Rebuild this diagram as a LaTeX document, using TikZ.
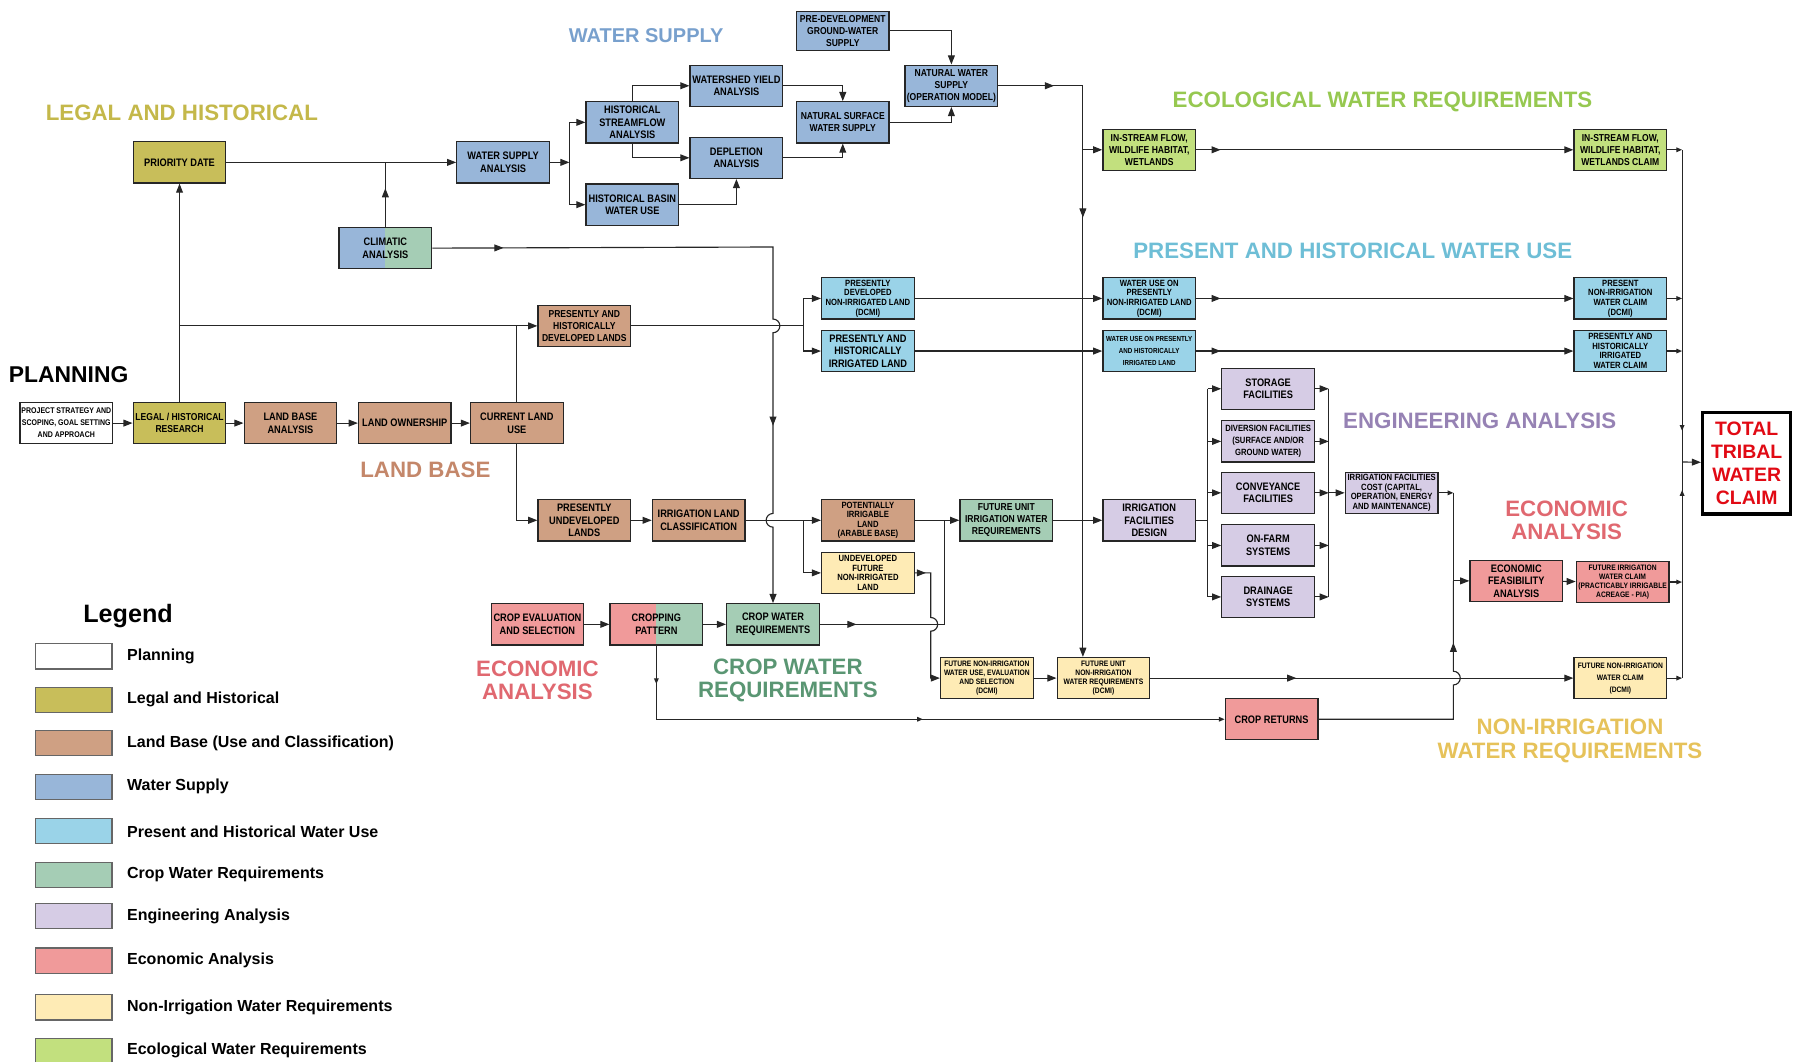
\documentclass[tikz,border=0pt]{standalone}
\usepackage{fontspec}
\setmainfont{Liberation Sans}
\newfontfamily\narrowsf[FakeStretch=0.85]{Liberation Sans}
\usetikzlibrary{arrows.meta,decorations.markings}

\definecolor{legalclr}{RGB}{200,190,90}
\definecolor{landclr}{RGB}{207,160,131}
\definecolor{supplyclr}{RGB}{152,182,217}
\definecolor{useclr}{RGB}{154,211,232}
\definecolor{cropclr}{RGB}{165,205,181}
\definecolor{engclr}{RGB}{214,204,229}
\definecolor{econclr}{RGB}{240,154,154}
\definecolor{nonirrclr}{RGB}{254,235,181}
\definecolor{ecoclr}{RGB}{194,224,126}
\definecolor{legaltxt}{RGB}{196,184,74}
\definecolor{landtxt}{RGB}{196,135,106}
\definecolor{supplytxt}{RGB}{120,160,205}
\definecolor{usetxt}{RGB}{110,190,214}
\definecolor{croptxt}{RGB}{90,150,115}
\definecolor{engtxt}{RGB}{150,130,180}
\definecolor{econtxt}{RGB}{224,104,112}
\definecolor{nonirrtxt}{RGB}{230,194,90}
\definecolor{ecotxt}{RGB}{150,200,80}
\definecolor{claimred}{RGB}{225,10,20}

\newcommand{\txtA}{\narrowsf\bfseries\fontsize{9.5}{11}\selectfont}
\newcommand{\txtAn}{\narrowsf\bfseries\fontsize{8.8}{10.6}\selectfont}
\newcommand{\txtB}{\narrowsf\bfseries\fontsize{7.9}{8.4}\selectfont}
\newcommand{\txtBw}{\narrowsf\bfseries\fontsize{7.9}{10.3}\selectfont}
\newcommand{\txtC}{\narrowsf\bfseries\fontsize{6.9}{7.8}\selectfont}
\newcommand{\txtCw}{\narrowsf\bfseries\fontsize{6.9}{10.5}\selectfont}
\newcommand{\txtCn}{\narrowsf\bfseries\fontsize{6.4}{10.5}\selectfont}
\newcommand{\txtP}{\narrowsf\bfseries\fontsize{7.2}{10.5}\selectfont}
\newcommand{\titlefont}{\bfseries\fontsize{19.5}{20.5}\selectfont}

\tikzset{
  blk/.style={draw=black!85, line width=1.1pt, minimum width=81pt, minimum height=36pt,
    inner sep=0.5pt, align=center, font=\txtA, fill=#1},
  blk/.default=white,
  halfblk/.style 2 args={blk=#1, path picture={\fill[#2] (path picture bounding box.north)
    rectangle (path picture bounding box.south east);}},
  sectitle/.style={font=\titlefont, align=center, inner sep=0pt},
  conn/.style={draw=black!85, line width=1pt},
  arr/.style={conn, -{Triangle[length=8pt,width=6pt]}},
  sarr/.style={conn, -{Triangle[length=5pt,width=4pt]}},
  marr/.style={postaction={decorate, decoration={markings,
    mark=at position #1 with {\arrow{Triangle[length=8pt,width=6pt]}}}}},
  smarr/.style={postaction={decorate, decoration={markings,
    mark=at position #1 with {\arrow{Triangle[length=5pt,width=4pt]}}}}},
  swatch/.style={draw=black!60, line width=1pt, minimum width=67pt, minimum height=22pt, inner sep=0pt},
  legtxt/.style={font=\bfseries\fontsize{14}{16}\selectfont, inner sep=0pt, anchor=west}
}

\begin{document}
\begin{tikzpicture}[x=1pt,y=-1pt]
\useasboundingbox (0,0) rectangle (1568,928);

% section titles
\node[sectitle, text=supplytxt, font=\bfseries\fontsize{17.5}{19}\selectfont] (tsupply) at (565,31) {WATER SUPPLY};
\node[sectitle, text=legaltxt] (tlegal) at (159,99) {LEGAL AND HISTORICAL};
\node[sectitle, text=ecotxt] (teco) at (1209,89) {ECOLOGICAL WATER REQUIREMENTS};
\node[sectitle, text=usetxt] (tuse) at (1183,219) {PRESENT AND HISTORICAL WATER USE};
\node[sectitle, text=black, font=\bfseries\fontsize{20}{22}\selectfont] (tplan) at (60,328) {PLANNING};
\node[sectitle, text=landtxt] (tland) at (372,411) {LAND BASE};
\node[sectitle, text=engtxt] (teng) at (1294,368) {ENGINEERING ANALYSIS};
\node[sectitle, text=econtxt] (tecon) at (1370,455) {ECONOMIC\\ANALYSIS};
\node[sectitle, text=econtxt] (tcropecon) at (470,595) {ECONOMIC\\ANALYSIS};
\node[sectitle, text=croptxt] (tcrop) at (689,595) {CROP WATER\\REQUIREMENTS};
\node[sectitle, text=nonirrtxt] (tnonirr) at (1373,648) {NON-IRRIGATION\\WATER REQUIREMENTS};

% planning, legal and land base
\node[blk, font=\txtP] (proj) at (58,370) {PROJECT STRATEGY AND\\SCOPING, GOAL SETTING\\AND APPROACH};
\node[blk=legalclr, font=\txtAn] (lhr) at (157,370) {LEGAL / HISTORICAL\\RESEARCH};
\node[blk=legalclr] (prio) at (157,142) {PRIORITY DATE};
\node[blk=landclr] (lba) at (254,370) {LAND BASE\\ANALYSIS};
\node[blk=landclr] (lown) at (354,370) {LAND OWNERSHIP};
\node[blk=landclr] (clu) at (452,370) {CURRENT LAND\\USE};
\node[blk=landclr, font=\txtAn] (phdl) at (511,285) {PRESENTLY AND\\HISTORICALLY\\DEVELOPED LANDS};
\node[blk=landclr] (pul) at (511,455) {PRESENTLY\\UNDEVELOPED\\LANDS};
\node[blk=landclr] (ilc) at (611,455) {IRRIGATION LAND\\CLASSIFICATION};
\node[blk=landclr, font=\txtB] (pil) at (759,455) {POTENTIALLY\\IRRIGABLE\\LAND\\(ARABLE BASE)};

% water supply
\node[blk=supplyclr] (wsa) at (440,142) {WATER SUPPLY\\ANALYSIS};
\node[halfblk={supplyclr}{cropclr}] (clim) at (337,217) {CLIMATIC\\ANALYSIS};
\node[blk=supplyclr] (hsa) at (553,107) {HISTORICAL\\STREAMFLOW\\ANALYSIS};
\node[blk=supplyclr] (wya) at (644,75) {WATERSHED YIELD\\ANALYSIS};
\node[blk=supplyclr] (dep) at (644,138) {DEPLETION\\ANALYSIS};
\node[blk=supplyclr] (hbw) at (553,179) {HISTORICAL BASIN\\WATER USE};
\node[blk=supplyclr, font=\txtAn] (nsws) at (737,107) {NATURAL SURFACE\\WATER SUPPLY};
\node[blk=supplyclr, font=\txtAn, minimum height=34pt] (pdgw) at (737,27) {PRE-DEVELOPMENT\\GROUND-WATER\\SUPPLY};
\node[blk=supplyclr, font=\txtAn] (nws) at (832,75) {NATURAL WATER\\SUPPLY\\(OPERATION MODEL)};

% water use and ecology
\node[blk=ecoclr, font=\txtAn] (isf) at (1005,131) {IN-STREAM FLOW,\\WILDLIFE HABITAT,\\WETLANDS};
\node[blk=ecoclr, font=\txtAn] (isfc) at (1417,131) {IN-STREAM FLOW,\\WILDLIFE HABITAT,\\WETLANDS CLAIM};
\node[blk=useclr, font=\txtB] (pdnil) at (759,261) {PRESENTLY\\DEVELOPED\\NON-IRRIGATED LAND\\(DCMI)};
\node[blk=useclr] (phil) at (759,307) {PRESENTLY AND\\HISTORICALLY\\IRRIGATED LAND};
\node[blk=useclr, font=\txtB] (wunil) at (1005,261) {WATER USE ON\\PRESENTLY\\NON-IRRIGATED LAND\\(DCMI)};
\node[blk=useclr, font=\txtCn] (wuhil) at (1005,307) {WATER USE ON PRESENTLY\\AND HISTORICALLY\\IRRIGATED LAND};
\node[blk=useclr, font=\txtB] (pnic) at (1417,261) {PRESENT\\NON-IRRIGATION\\WATER CLAIM\\(DCMI)};
\node[blk=useclr, font=\txtB] (phiwc) at (1417,307) {PRESENTLY AND\\HISTORICALLY\\IRRIGATED\\WATER CLAIM};

% crops, engineering and economics
\node[blk=econclr] (cres) at (470,546) {CROP EVALUATION\\AND SELECTION};
\node[halfblk={econclr}{cropclr}] (cpat) at (574,546) {CROPPING\\PATTERN};
\node[blk=cropclr] (cwr) at (676,546) {CROP WATER\\REQUIREMENTS};
\node[blk=cropclr, font=\txtAn] (fuiwr) at (880,455) {FUTURE UNIT\\IRRIGATION WATER\\REQUIREMENTS};
\node[blk=engclr] (ifd) at (1005,455) {IRRIGATION\\FACILITIES\\DESIGN};
\node[blk=engclr] (stor) at (1109,340) {STORAGE\\FACILITIES};
\node[blk=engclr, font=\txtBw] (div) at (1109,386) {DIVERSION FACILITIES\\(SURFACE AND/OR\\GROUND WATER)};
\node[blk=engclr] (conv) at (1109,431) {CONVEYANCE\\FACILITIES};
\node[blk=engclr] (onf) at (1109,477) {ON-FARM\\SYSTEMS};
\node[blk=engclr] (drain) at (1109,522) {DRAINAGE\\SYSTEMS};
\node[blk=engclr, font=\txtB] (ifc) at (1217,431) {IRRIGATION FACILITIES\\COST (CAPITAL,\\OPERATION, ENERGY\\AND MAINTENANCE)};
\node[blk=econclr] (efa) at (1326,508) {ECONOMIC\\FEASIBILITY\\ANALYSIS};
\node[blk=econclr, font=\txtC] (fiwc) at (1419,509) {FUTURE IRRIGATION\\WATER CLAIM\\(PRACTICABLY IRRIGABLE\\ACREAGE - PIA)};
\node[blk=econclr] (crr) at (1112,629) {CROP RETURNS};

% non-irrigation
\node[blk=nonirrclr, font=\txtB] (ufnil) at (759,501) {UNDEVELOPED\\FUTURE\\NON-IRRIGATED\\LAND};
\node[blk=nonirrclr, font=\txtC] (fnwu) at (863,593) {FUTURE NON-IRRIGATION\\WATER USE, EVALUATION\\AND SELECTION\\(DCMI)};
\node[blk=nonirrclr, font=\txtC] (funi) at (965,593) {FUTURE UNIT\\NON-IRRIGATION\\WATER REQUIREMENTS\\(DCMI)};
\node[blk=nonirrclr, font=\txtCw] (fnic) at (1417,593) {FUTURE NON-IRRIGATION\\WATER CLAIM\\(DCMI)};

\node[draw=black, line width=3pt, fill=white, minimum width=77pt, minimum height=89pt, inner sep=0pt,
  align=center, text=claimred, font=\bfseries\fontsize{17}{20}\selectfont] (ttwc) at (1527.5,405) {TOTAL\\TRIBAL\\WATER\\CLAIM};

% junctions
\coordinate (wsj) at (498,142);
\coordinate (trunk) at (947,75);
\coordinate (phj) at (703,285);
\coordinate (clj) at (676,216);
\coordinate (ilj) at (703,455);
\coordinate (cwj) at (826,546);
\coordinate (ifj) at (1056,455);
\coordinate (engj) at (1162,431);
\coordinate (ifcj) at (1271,431);
\coordinate (totj) at (1471,404);

% connectors
\draw[arr] (proj) -- (lhr);
\draw[arr] (lhr) -- (lba);
\draw[arr] (lba) -- (lown);
\draw[arr] (lown) -- (clu);
\draw[arr] (lhr) -- (prio);
\draw[arr] (lhr.north |- phdl.west) -- (phdl.west);
\draw[conn] (clu.north) -- (clu.north |- phdl.west);
\draw[arr] (clu.south) |- (pul.west);
\draw[arr] (pul) -- (ilc);

\draw[arr] (prio) -- (wsa);
\draw[conn, marr=0.6] (clim.north) -- (clim.north |- prio.east);
\draw[arr] (wsa) -- (wsj);
\draw[arr] (wsj) |- (hsa.west);
\draw[arr] (wsj) |- (hbw.west);
\draw[arr] (hsa.north) |- (wya.west);
\draw[arr] (hsa.south) |- (dep.west);
\draw[arr] (hbw.east) -| (dep.south);
\draw[arr] (wya.east) -| (nsws.north);
\draw[arr] (dep.east) -| (nsws.south);
\draw[arr] (pdgw.east) -| (nws.north);
\draw[arr] (nsws.east) -| (nws.south);
\draw[arr, marr=0.085, marr=0.33] (nws.east) -- (trunk) -- (trunk |- funi.north);

\draw[arr] (trunk |- isf.west) -- (isf.west);
\draw[arr, marr=0.065] (isf) -- (isfc);
\draw[arr] (pdnil) -- (wunil);
\draw[arr] (phil) -- (wuhil);
\draw[arr, marr=0.065] (wunil) -- (pnic);
\draw[arr, marr=0.065] (wuhil) -- (phiwc);

\draw[conn] (phdl) -- (phj);
\draw[arr] (phj) |- (pdnil.west);
\draw[arr] (phj) |- (phil.west);
\draw[arr, marr=0.1, marr=0.74] (clim.east) -- (clj) -- (676,279)
  arc[start angle=-90, end angle=90, radius=6] -- (676,449)
  arc[start angle=-90, end angle=-270, radius=6] -- (cwr.north);

\draw[conn] (ilc) -- (ilj);
\draw[arr] (ilj) -- (pil);
\draw[arr] (ilj) |- (ufnil.west);
\draw[arr] (pil) -- (fuiwr);
\draw[conn, marr=0.16] (cwr.east) -- (cwj) -- (cwj |- fuiwr.west);
\draw[arr, marr=0.08] (ufnil.east) -- (814,501) -- (814,540)
  arc[start angle=-90, end angle=90, radius=6] -- (814,593) -- (fnwu.west);

\draw[arr] (cres) -- (cpat);
\draw[arr] (cpat) -- (cwr);
\draw[sarr, smarr=0.06, smarr=0.53] (cpat.south) |- (crr.west);

\draw[arr] (fuiwr) -- (ifd);
\draw[conn] (ifd) -- (ifj);
\draw[conn] (ifj |- stor.west) -- (ifj |- drain.west);
\draw[conn] (engj |- stor.east) -- (engj |- drain.east);
\foreach \b in {stor,div,conv,onf,drain} {
  \draw[arr] (ifj |- \b.west) -- (\b.west);
  \draw[arr] (\b.east) -- (\b.east -| engj);
}
\draw[arr] (engj) -- (ifc);
\draw[sarr] (ifc.east) -- (ifcj);
\draw[arr] (ifcj) |- (efa.west);
\draw[conn, marr=0.78] (crr.east) -- (1271,629) -- (1271,599)
  arc[start angle=90, end angle=-90, radius=6] -- (ifcj |- efa.west);
\draw[arr] (efa) -- (fiwc);

\draw[arr] (fnwu) -- (funi);
\draw[arr, marr=0.345] (funi) -- (fnic);

% total claim collector
\foreach \b in {isfc,pnic,phiwc,fiwc,fnic}
  \draw[sarr] (\b.east) -- (\b.east -| totj);
\draw[conn, smarr=0.9] (totj |- isfc.east) -- (totj);
\draw[conn, smarr=0.87] (totj |- fnic.east) -- (totj);
\draw[arr] (totj) -- (ttwc);

% legend
\node[font=\bfseries\fontsize{22}{24}\selectfont, inner sep=0pt] (leg) at (112,539) {Legend};
\foreach \yy/\clr/\lbl [count=\i] in {574/white/Planning, 612/legalclr/Legal and Historical,
  650/landclr/Land Base (Use and Classification), 688/supplyclr/Water Supply,
  727/useclr/Present and Historical Water Use, 765/cropclr/Crop Water Requirements,
  801/engclr/Engineering Analysis, 840/econclr/Economic Analysis,
  881/nonirrclr/Non-Irrigation Water Requirements, 919/ecoclr/Ecological Water Requirements} {
  \node[swatch, fill=\clr] (sw\i) at (64.5,\yy) {};
  \node[legtxt] (lg\i) at (111,\yy) {\lbl};
}
\end{tikzpicture}
\end{document}
